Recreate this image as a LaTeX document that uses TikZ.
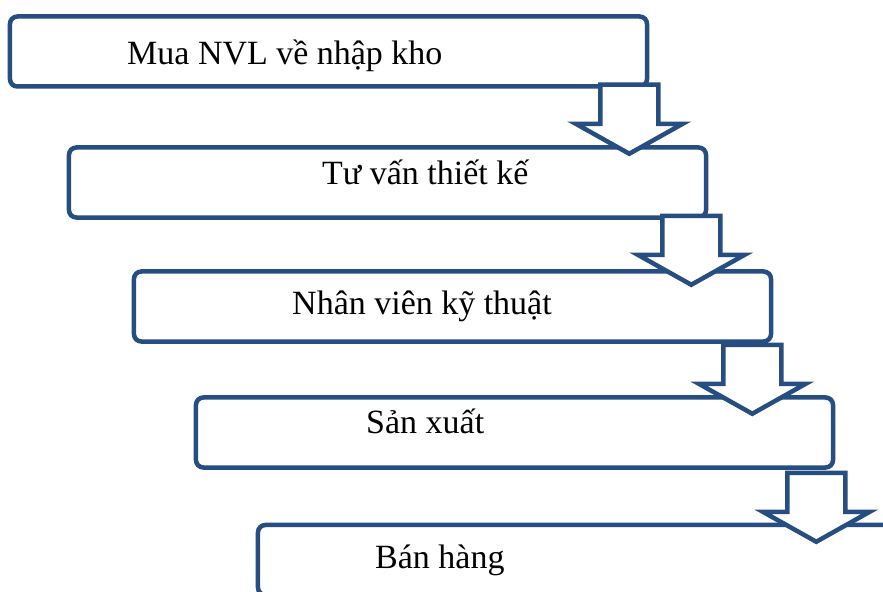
\documentclass[tikz,border=0pt]{standalone}
\usepackage{fontspec}
\setmainfont{Liberation Serif}
\usetikzlibrary{calc}
\definecolor{boxblue}{RGB}{38,78,128}
\tikzset{
  box/.style={draw=boxblue,line width=0.135cm,rounded corners=0.22cm,
    minimum width=19.11cm,minimum height=2.1cm,inner sep=0pt,fill=white},
  lbl/.style={anchor=base west,inner sep=0pt,
    font=\fontsize{29}{34}\selectfont},
  arrowline/.style={draw=boxblue,fill=white,line width=0.135cm},
  downarrow/.pic={
    \filldraw[arrowline] (-29,0) -- (29,0) -- (29,39) -- (53.5,39)
      -- (0,69) -- (-53.5,39) -- (-29,39) -- cycle;
  }
}
\begin{document}
\begin{tikzpicture}[x=0.03cm,y=-0.03cm]
 % page frame
 \clip (0,0) rectangle (883,592);
 \fill[white] (0,0) rectangle (883,592);

 % the steps
 \node[box] (b1) at (328.5,51.5) {};
 \node[box] (b2) at (387.5,182.5) {};
 \node[box] (b3) at (452.5,306.5) {};
 \node[box] (b4) at (514.5,432.5) {};
 \node[box] (b5) at (576.5,560) {};

 % the texts
 \node[lbl] (t1) at (127,65)  {Mua NVL về nhập kho};
 \node[lbl] (t2) at (322,185) {Tư vấn thiết kế};
 \node[lbl] (t3) at (292,314) {Nhân viên kỹ thuật};
 \node[lbl] (t4) at (366,433) {Sản xuất};
 \node[lbl] (t5) at (375,568) {Bán hàng};

 % block arrows from one step to the next
 \foreach \i/\dx/\dy in {1/-20/-4, 2/-17/-4, 3/-21/1, 4/-19/3} {
         \pic at ($(b\i.south east)+(\dx,\dy)$) {downarrow};
 }
\end{tikzpicture}
\end{document}
